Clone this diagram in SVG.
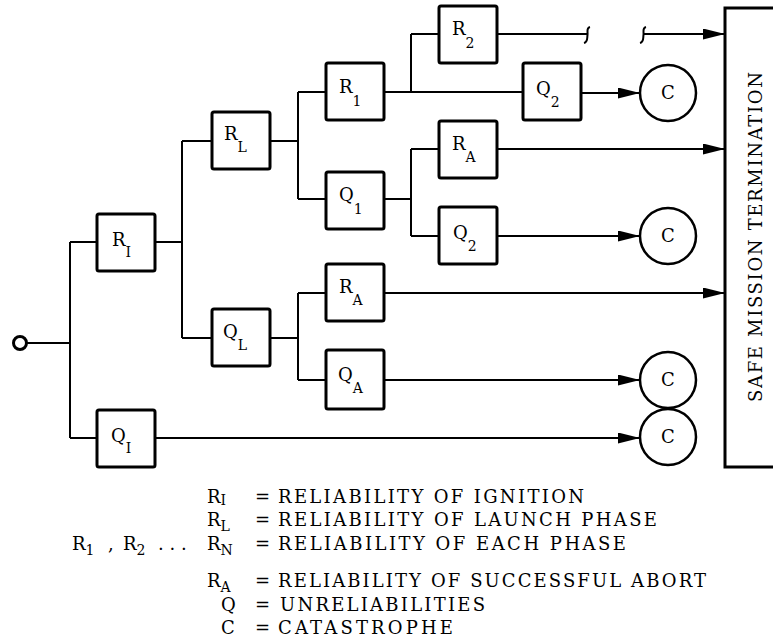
<svg xmlns="http://www.w3.org/2000/svg" width="773" height="643" viewBox="0 0 773 643">
<defs>
<style>
.box{fill:#fff;stroke:#000;stroke-width:3;}
.wire{fill:none;stroke:#000;stroke-width:2;}
.circ{fill:#fff;stroke:#000;stroke-width:2.5;}
text{font-family:"DejaVu Serif","Liberation Serif",serif;fill:#000;}
.lbl{font-size:18px;}
.sub{font-size:14px;}
.leg{font-size:18px;}
</style>
<marker id="arr" viewBox="0 0 22 11" refX="22" refY="5.5" markerWidth="22" markerHeight="11" markerUnits="userSpaceOnUse" orient="auto">
<path d="M0,0 L22,5.5 L0,11 z" fill="#000"/>
</marker>
</defs>
<rect width="773" height="643" fill="#fff"/>

<g id="connectors" class="wire">
<path d="M27,343 H70 M70,242 V438 M70,242 H97 M70,438 H97"/>
<path d="M155,242 H182 M182,141 V338 M182,141 H212 M182,338 H212"/>
<path d="M270,141 H298 M298,92 V199 M298,92 H326 M298,199 H326"/>
<path d="M270,338 H298 M298,293 V380 M298,293 H326 M298,380 H326"/>
<path d="M384,92 H523 M411,34 V92 M411,34 H439"/>
<path d="M384,199 H411 M411,149 V236 M411,149 H439 M411,236 H439"/>
<path d="M497,34 H587"/>
<path d="M590,27 C586,28 588,32 587.5,35 C587,38 588,42 584,43"/>
<path d="M646,27 C642,28 644,32 643.5,35 C643,38 644,42 640,43"/>
<path d="M643,34 H725" marker-end="url(#arr)"/>
<path d="M581,93 H640" marker-end="url(#arr)"/>
<path d="M497,149 H725" marker-end="url(#arr)"/>
<path d="M497,236 H640" marker-end="url(#arr)"/>
<path d="M384,293 H725" marker-end="url(#arr)"/>
<path d="M384,380 H640" marker-end="url(#arr)"/>
<path d="M155,438 H640" marker-end="url(#arr)"/>
</g>

<g id="start"><circle cx="20" cy="343" r="6.5" fill="#fff" stroke="#000" stroke-width="3"/></g>

<g id="RI"><rect class="box" x="97" y="214" width="58" height="57" rx="2"/><text class="lbl" x="112" y="246">R<tspan class="sub" dy="11">I</tspan></text></g>
<g id="QI"><rect class="box" x="97" y="410" width="58" height="57" rx="2"/><text class="lbl" x="111" y="442">Q<tspan class="sub" dy="11">I</tspan></text></g>
<g id="RL"><rect class="box" x="212" y="112" width="58" height="57" rx="2"/><text class="lbl" x="224" y="140">R<tspan class="sub" dy="12">L</tspan></text></g>
<g id="QL"><rect class="box" x="212" y="309" width="58" height="57" rx="2"/><text class="lbl" x="223" y="338">Q<tspan class="sub" dy="12">L</tspan></text></g>
<g id="R1"><rect class="box" x="326" y="63" width="58" height="57" rx="2"/><text class="lbl" x="339" y="93">R<tspan class="sub" dy="13">1</tspan></text></g>
<g id="Q1"><rect class="box" x="326" y="172" width="58" height="57" rx="2"/><text class="lbl" x="339" y="201">Q<tspan class="sub" dy="13">1</tspan></text></g>
<g id="R2"><rect class="box" x="439" y="6" width="58" height="57" rx="2"/><text class="lbl" x="452" y="35">R<tspan class="sub" dy="13">2</tspan></text></g>
<g id="Q2a"><rect class="box" x="523" y="63" width="58" height="57" rx="2"/><text class="lbl" x="536" y="95">Q<tspan class="sub" dy="12">2</tspan></text></g>
<g id="RAa"><rect class="box" x="439" y="121" width="58" height="57" rx="2"/><text class="lbl" x="452" y="150">R<tspan class="sub" dy="12">A</tspan></text></g>
<g id="Q2b"><rect class="box" x="439" y="207" width="58" height="57" rx="2"/><text class="lbl" x="453" y="239">Q<tspan class="sub" dy="12">2</tspan></text></g>
<g id="RAb"><rect class="box" x="326" y="264" width="58" height="57" rx="2"/><text class="lbl" x="339" y="293">R<tspan class="sub" dy="12">A</tspan></text></g>
<g id="QA"><rect class="box" x="326" y="350" width="58" height="59" rx="2"/><text class="lbl" x="338" y="381">Q<tspan class="sub" dy="12">A</tspan></text></g>

<g id="C1"><circle class="circ" cx="668" cy="93" r="28"/><text class="lbl" x="668" y="99" text-anchor="middle">C</text></g>
<g id="C2"><circle class="circ" cx="668" cy="236" r="28"/><text class="lbl" x="668" y="242" text-anchor="middle">C</text></g>
<g id="C3"><circle class="circ" cx="668" cy="380" r="28"/><text class="lbl" x="668" y="386" text-anchor="middle">C</text></g>
<g id="C4"><circle class="circ" cx="668" cy="437" r="28"/><text class="lbl" x="668" y="443" text-anchor="middle">C</text></g>

<g id="safe">
<path d="M776,8 H725 V467 H776" fill="none" stroke="#000" stroke-width="3"/>
<text class="leg" transform="translate(762,237) rotate(-90)" text-anchor="middle" textLength="330" lengthAdjust="spacing">SAFE MISSION TERMINATION</text>
</g>

<g id="legend" class="leg">
<text x="207" y="503">R<tspan class="sub" dy="2">I</tspan></text>
<text x="255" y="503">=</text>
<text x="278" y="503" textLength="306" lengthAdjust="spacing">RELIABILITY OF IGNITION</text>
<text x="207" y="526">R<tspan class="sub" dy="5">L</tspan></text>
<text x="255" y="526">=</text>
<text x="278" y="526" textLength="379" lengthAdjust="spacing">RELIABILITY OF LAUNCH PHASE</text>
<text x="72" y="550">R<tspan class="sub" dy="5">1</tspan></text>
<text x="108" y="550">,</text>
<text x="123" y="550">R<tspan class="sub" dy="5">2</tspan></text>
<text x="158" y="550">. . .</text>
<text x="207" y="550">R<tspan class="sub" dy="5">N</tspan></text>
<text x="255" y="550">=</text>
<text x="278" y="550" textLength="348" lengthAdjust="spacing">RELIABILITY OF EACH PHASE</text>
<text x="207" y="587">R<tspan class="sub" dy="5">A</tspan></text>
<text x="255" y="587">=</text>
<text x="278" y="587" textLength="428" lengthAdjust="spacing">RELIABILITY OF SUCCESSFUL ABORT</text>
<text x="221" y="611">Q</text>
<text x="255" y="611">=</text>
<text x="280" y="611" textLength="205" lengthAdjust="spacing">UNRELIABILITIES</text>
<text x="221" y="634">C</text>
<text x="255" y="634">=</text>
<text x="278" y="634" textLength="175" lengthAdjust="spacing">CATASTROPHE</text>
</g>
</svg>
